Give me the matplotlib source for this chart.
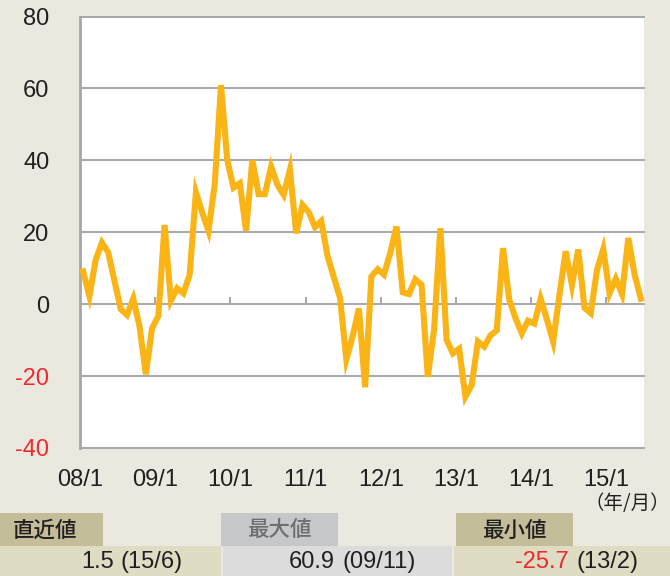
import matplotlib
matplotlib.use('Agg')
import matplotlib.pyplot as plt
from matplotlib.patches import Rectangle
import numpy as np

# 月次データ 2008/1 - 2015/6
values = [
    9.1, 2.3, 12.3, 17.1, 14.4, 6.5, -1.4, -3.0, 1.5, -6.2,
    -19.5, -6.7, -3.3, 22.0, 1.0, 4.4, 3.0, 8.2, 31.1, 25.5,
    20.4, 33.3, 60.9, 40.0, 32.4, 33.6, 20.4, 40.0, 30.6, 30.6,
    38.2, 33.2, 30.4, 37.4, 19.7, 27.6, 25.6, 21.4, 23.1, 13.4,
    7.5, 1.7, -15.4, -9.0, -1.2, -23.1, 7.7, 9.7, 8.2, 14.2,
    21.6, 3.3, 2.8, 6.9, 5.4, -20.2, -7.1, 21.1, -9.9, -13.7,
    -12.4, -25.7, -22.5, -10.4, -11.8, -8.7, -7.3, 15.6, 1.2, -3.9,
    -8.1, -4.6, -5.4, 1.5, -4.2, -10.4, 2.5, 14.7, 5.3, 15.2,
    -1.0, -2.5, 9.5, 15.3, 3.0, 7.1, 2.8, 18.4, 8.2, 1.5,
]
year_labels = ['08/1', '09/1', '10/1', '11/1', '12/1', '13/1', '14/1', '15/1']
y_ticks = [-40, -20, 0, 20, 40, 60, 80]

headers = ['直近値', '最大値', '最小値']
latest = ('1.5', '(15/6)')
maximum = ('60.9', '(09/11)')
minimum = ('-25.7', '(13/2)')

BG = '#ebe8e0'
LINE = '#fbb415'
GRID = '#a6a7aa'
RED = '#ee2a2e'
DARK = '#231f20'
KHAKI = '#c3be99'
KHAKI_L = '#dfdcc4'
GRAY = '#c6c7c9'
GRAY_L = '#dcdcdd'

NUM_FONT = ['Liberation Sans Narrow', 'Liberation Sans', 'DejaVu Sans']
JP_FONT = ['Noto Sans CJK JP', 'DejaVu Sans']

W, H = 670, 576
fig = plt.figure(figsize=(W / 100, H / 100), dpi=100)
fig.patch.set_facecolor(BG)

# 背景用（ピクセル座標）
bg = fig.add_axes([0, 0, 1, 1])
bg.set_xlim(0, W)
bg.set_ylim(H, 0)
bg.axis('off')

# メインの折れ線
left, right, top, bottom = 80, 644, 16.5, 448
ax = fig.add_axes([left / W, (H - bottom) / H, (right - left) / W, (bottom - top) / H])
ax.set_facecolor('white')
x = np.arange(len(values)) + 0.5
ax.set_xlim(0, 90)
ax.set_ylim(-40, 80)

for yv in y_ticks:
    ax.axhline(yv, color=GRID, lw=1.4, zorder=1, clip_on=False)
year_pos = np.arange(len(year_labels)) * 12
ax.vlines(year_pos[1:], 0, 2, color=GRID, lw=1.4, zorder=1)

ax.plot(x, values, color=LINE, lw=4.4, solid_joinstyle='miter', zorder=3, clip_on=False)

for s in ['top', 'right', 'bottom']:
    ax.spines[s].set_visible(False)
ax.spines['left'].set_color(GRID)
ax.spines['left'].set_linewidth(2)

ax.set_yticks(y_ticks)
ax.set_yticklabels([str(v) for v in y_ticks], family=NUM_FONT, fontsize=17)
for lab, v in zip(ax.get_yticklabels(), y_ticks):
    lab.set_color(RED if v < 0 else DARK)
ax.tick_params(axis='y', length=0, pad=22)

ax.set_xticks(year_pos)
ax.set_xticklabels(year_labels, family=NUM_FONT, fontsize=17, color=DARK)
ax.tick_params(axis='x', length=0, pad=15)

bg.text(670, 503, '（年/月）', family=JP_FONT, fontsize=14, color=DARK,
        ha='right', va='center')

# 下部の表
row1, row2 = 513, 546
header_boxes = [(0, 102.5, KHAKI), (220.5, 337.5, GRAY), (456, 572.5, KHAKI)]
value_boxes = [(0, 221, KHAKI_L), (222.5, 452, GRAY_L), (453.5, 670, KHAKI_L)]
header_colors = [DARK, '#6d6e71', DARK]
header_x = [45, 280, 515]

for (x0, x1, c), txt, tc, tx in zip(header_boxes, headers, header_colors, header_x):
    bg.add_patch(Rectangle((x0, row1), x1 - x0, row2 - row1, facecolor=c, edgecolor='none'))
    bg.text(tx, (row1 + row2) / 2 + 1, txt, family=JP_FONT, fontsize=15.5,
            fontweight='medium', color=tc, ha='center', va='center')

for (x0, x1, c) in value_boxes:
    bg.add_patch(Rectangle((x0, row2), x1 - x0, H - row2, facecolor=c, edgecolor='none'))

yv = (row2 + H) / 2 + 1
bg.text(114, yv, latest[0], family=NUM_FONT, fontsize=17, color=DARK, ha='right', va='center')
bg.text(121, yv, latest[1], family=NUM_FONT, fontsize=17, color=DARK, ha='left', va='center')
bg.text(335, yv, maximum[0], family=NUM_FONT, fontsize=17, color=DARK, ha='right', va='center')
bg.text(343, yv, maximum[1], family=NUM_FONT, fontsize=17, color=DARK, ha='left', va='center')
bg.text(569, yv, minimum[0], family=NUM_FONT, fontsize=17, color=RED, ha='right', va='center')
bg.text(577, yv, minimum[1], family=NUM_FONT, fontsize=17, color=DARK, ha='left', va='center')

fig.savefig('out.png', dpi=100, facecolor=BG)
plt.close()
